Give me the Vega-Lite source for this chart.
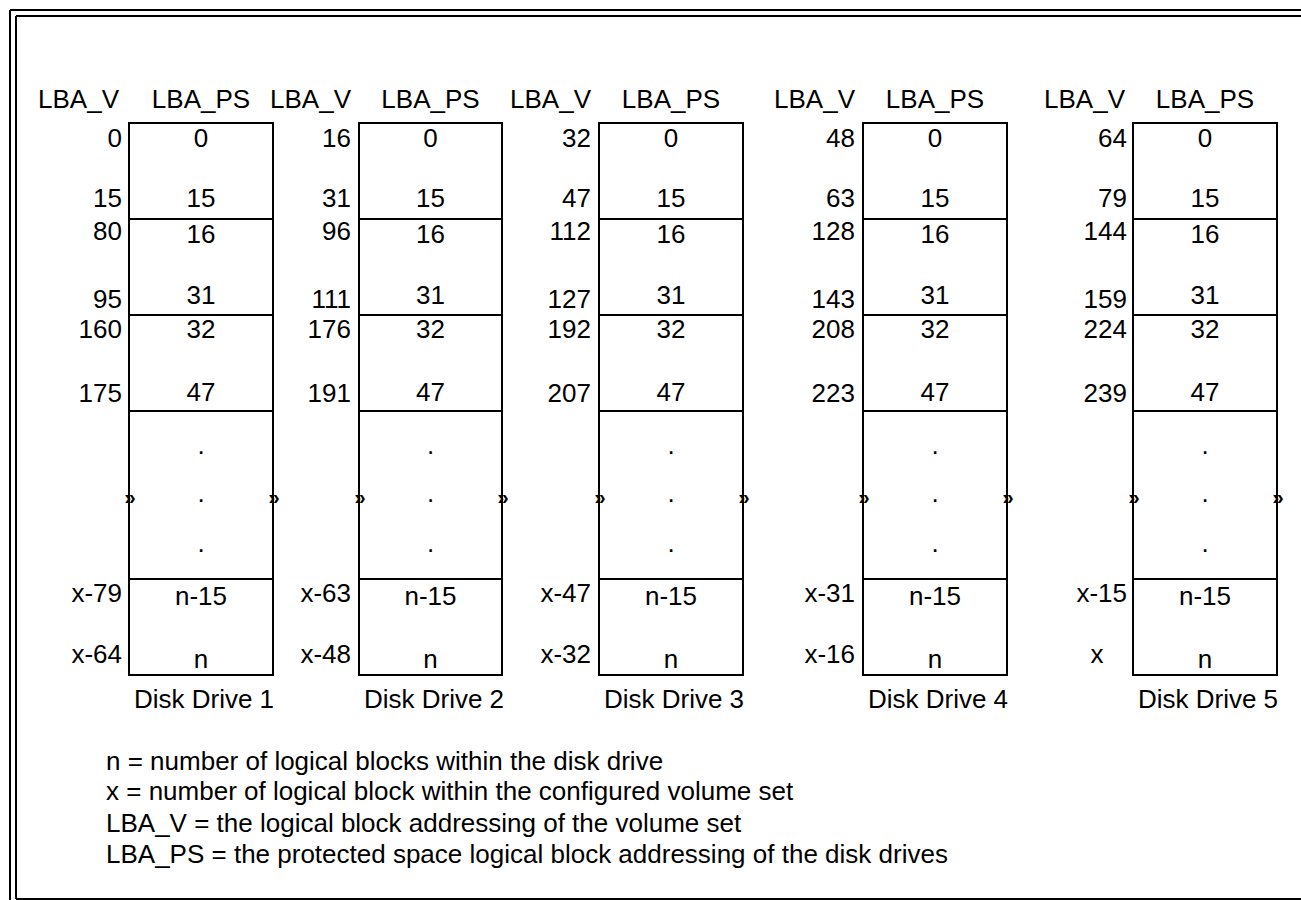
{
  "$schema": "https://vega.github.io/schema/vega-lite/v6.json",
  "width": 1301,
  "height": 900,
  "padding": 0,
  "autosize": {"type": "none"},
  "background": "white",
  "config": {"view": {"stroke": null}, "text": {"font": "Liberation Sans", "color": "black"}},
  "datasets": {
    "lines": [
      {"x": 10, "y": 10, "x2": 1301, "y2": 10},
      {"x": 16, "y": 16, "x2": 1301, "y2": 16},
      {"x": 10, "y": 10, "x2": 10, "y2": 900},
      {"x": 16, "y": 16, "x2": 16, "y2": 899},
      {"x": 16, "y": 899, "x2": 1301, "y2": 899},
      {"x": 129, "y": 219, "x2": 273, "y2": 219},
      {"x": 129, "y": 315, "x2": 273, "y2": 315},
      {"x": 129, "y": 411, "x2": 273, "y2": 411},
      {"x": 129, "y": 579, "x2": 273, "y2": 579},
      {"x": 359, "y": 219, "x2": 502, "y2": 219},
      {"x": 359, "y": 315, "x2": 502, "y2": 315},
      {"x": 359, "y": 411, "x2": 502, "y2": 411},
      {"x": 359, "y": 579, "x2": 502, "y2": 579},
      {"x": 599, "y": 219, "x2": 743, "y2": 219},
      {"x": 599, "y": 315, "x2": 743, "y2": 315},
      {"x": 599, "y": 411, "x2": 743, "y2": 411},
      {"x": 599, "y": 579, "x2": 743, "y2": 579},
      {"x": 863, "y": 219, "x2": 1007, "y2": 219},
      {"x": 863, "y": 315, "x2": 1007, "y2": 315},
      {"x": 863, "y": 411, "x2": 1007, "y2": 411},
      {"x": 863, "y": 579, "x2": 1007, "y2": 579},
      {"x": 1133, "y": 219, "x2": 1277, "y2": 219},
      {"x": 1133, "y": 315, "x2": 1277, "y2": 315},
      {"x": 1133, "y": 411, "x2": 1277, "y2": 411},
      {"x": 1133, "y": 579, "x2": 1277, "y2": 579}
    ],
    "boxes": [
      {"drive": "Disk Drive 1", "x": 129, "x2": 273, "y": 123, "y2": 675},
      {"drive": "Disk Drive 2", "x": 359, "x2": 502, "y": 123, "y2": 675},
      {"drive": "Disk Drive 3", "x": 599, "x2": 743, "y": 123, "y2": 675},
      {"drive": "Disk Drive 4", "x": 863, "x2": 1007, "y": 123, "y2": 675},
      {"drive": "Disk Drive 5", "x": 1133, "x2": 1277, "y": 123, "y2": 675}
    ],
    "center": [
      {"t": "LBA_PS", "x": 201, "y": 108}, {"t": "LBA_PS", "x": 430.5, "y": 108}, {"t": "LBA_PS", "x": 671, "y": 108}, {"t": "LBA_PS", "x": 935, "y": 108}, {"t": "LBA_PS", "x": 1205, "y": 108},
      {"t": "0", "x": 201, "y": 147}, {"t": "15", "x": 201, "y": 207}, {"t": "16", "x": 201, "y": 243}, {"t": "31", "x": 201, "y": 304}, {"t": "32", "x": 201, "y": 338}, {"t": "47", "x": 201, "y": 401}, {"t": "n-15", "x": 201, "y": 605}, {"t": "n", "x": 201, "y": 668},
      {"t": "0", "x": 430.5, "y": 147}, {"t": "15", "x": 430.5, "y": 207}, {"t": "16", "x": 430.5, "y": 243}, {"t": "31", "x": 430.5, "y": 304}, {"t": "32", "x": 430.5, "y": 338}, {"t": "47", "x": 430.5, "y": 401}, {"t": "n-15", "x": 430.5, "y": 605}, {"t": "n", "x": 430.5, "y": 668},
      {"t": "0", "x": 671, "y": 147}, {"t": "15", "x": 671, "y": 207}, {"t": "16", "x": 671, "y": 243}, {"t": "31", "x": 671, "y": 304}, {"t": "32", "x": 671, "y": 338}, {"t": "47", "x": 671, "y": 401}, {"t": "n-15", "x": 671, "y": 605}, {"t": "n", "x": 671, "y": 668},
      {"t": "0", "x": 935, "y": 147}, {"t": "15", "x": 935, "y": 207}, {"t": "16", "x": 935, "y": 243}, {"t": "31", "x": 935, "y": 304}, {"t": "32", "x": 935, "y": 338}, {"t": "47", "x": 935, "y": 401}, {"t": "n-15", "x": 935, "y": 605}, {"t": "n", "x": 935, "y": 668},
      {"t": "0", "x": 1205, "y": 147}, {"t": "15", "x": 1205, "y": 207}, {"t": "16", "x": 1205, "y": 243}, {"t": "31", "x": 1205, "y": 304}, {"t": "32", "x": 1205, "y": 338}, {"t": "47", "x": 1205, "y": 401}, {"t": "n-15", "x": 1205, "y": 605}, {"t": "n", "x": 1205, "y": 668},
      {"t": ".", "x": 201, "y": 454}, {"t": ".", "x": 201, "y": 502}, {"t": ".", "x": 201, "y": 552},
      {"t": ".", "x": 430.5, "y": 454}, {"t": ".", "x": 430.5, "y": 502}, {"t": ".", "x": 430.5, "y": 552},
      {"t": ".", "x": 671, "y": 454}, {"t": ".", "x": 671, "y": 502}, {"t": ".", "x": 671, "y": 552},
      {"t": ".", "x": 935, "y": 454}, {"t": ".", "x": 935, "y": 502}, {"t": ".", "x": 935, "y": 552},
      {"t": ".", "x": 1205, "y": 454}, {"t": ".", "x": 1205, "y": 502}, {"t": ".", "x": 1205, "y": 552},
      {"t": "Disk Drive 1", "x": 204, "y": 708}, {"t": "Disk Drive 2", "x": 434, "y": 708}, {"t": "Disk Drive 3", "x": 674, "y": 708}, {"t": "Disk Drive 4", "x": 938, "y": 708}, {"t": "Disk Drive 5", "x": 1208, "y": 708},
      {"t": "x", "x": 1097, "y": 663}
    ],
    "right": [
      {"t": "LBA_V", "x": 119, "y": 108}, {"t": "LBA_V", "x": 351, "y": 108}, {"t": "LBA_V", "x": 591, "y": 108}, {"t": "LBA_V", "x": 855, "y": 108}, {"t": "LBA_V", "x": 1125, "y": 108},
      {"t": "0", "x": 122, "y": 147}, {"t": "15", "x": 122, "y": 207}, {"t": "80", "x": 122, "y": 240}, {"t": "95", "x": 122, "y": 308}, {"t": "160", "x": 122, "y": 338}, {"t": "175", "x": 122, "y": 402}, {"t": "x-79", "x": 122, "y": 602}, {"t": "x-64", "x": 122, "y": 663},
      {"t": "16", "x": 351, "y": 147}, {"t": "31", "x": 351, "y": 207}, {"t": "96", "x": 351, "y": 240}, {"t": "111", "x": 351, "y": 308}, {"t": "176", "x": 351, "y": 338}, {"t": "191", "x": 351, "y": 402}, {"t": "x-63", "x": 351, "y": 602}, {"t": "x-48", "x": 351, "y": 663},
      {"t": "32", "x": 591, "y": 147}, {"t": "47", "x": 591, "y": 207}, {"t": "112", "x": 591, "y": 240}, {"t": "127", "x": 591, "y": 308}, {"t": "192", "x": 591, "y": 338}, {"t": "207", "x": 591, "y": 402}, {"t": "x-47", "x": 591, "y": 602}, {"t": "x-32", "x": 591, "y": 663},
      {"t": "48", "x": 855, "y": 147}, {"t": "63", "x": 855, "y": 207}, {"t": "128", "x": 855, "y": 240}, {"t": "143", "x": 855, "y": 308}, {"t": "208", "x": 855, "y": 338}, {"t": "223", "x": 855, "y": 402}, {"t": "x-31", "x": 855, "y": 602}, {"t": "x-16", "x": 855, "y": 663},
      {"t": "64", "x": 1127, "y": 147}, {"t": "79", "x": 1127, "y": 207}, {"t": "144", "x": 1127, "y": 240}, {"t": "159", "x": 1127, "y": 308}, {"t": "224", "x": 1127, "y": 338}, {"t": "239", "x": 1127, "y": 402}, {"t": "x-15", "x": 1127, "y": 602}
    ],
    "marks": [
      {"x": 130, "y": 498}, {"x": 274, "y": 498},
      {"x": 360, "y": 498}, {"x": 503, "y": 498},
      {"x": 600, "y": 498}, {"x": 744, "y": 498},
      {"x": 864, "y": 498}, {"x": 1008, "y": 498},
      {"x": 1134, "y": 498}, {"x": 1278, "y": 498}
    ],
    "legend": [
      {"t": "n = number of logical blocks within the disk drive", "x": 106, "y": 770},
      {"t": "x = number of logical block within the configured volume set", "x": 106, "y": 800},
      {"t": "LBA_V = the logical block addressing of the volume set", "x": 106, "y": 832},
      {"t": "LBA_PS = the protected space logical block addressing of the disk drives", "x": 106, "y": 863}
    ]
  },
  "layer": [
    {
      "data": {"name": "lines"},
      "mark": {"type": "rule", "stroke": "black", "strokeWidth": 2},
      "encoding": {
        "x": {"field": "x", "type": "quantitative", "scale": {"domain": [0, 1301], "nice": false, "zero": false}, "axis": null},
        "y": {"field": "y", "type": "quantitative", "scale": {"domain": [0, 900], "nice": false, "zero": false, "reverse": true}, "axis": null},
        "x2": {"field": "x2"},
        "y2": {"field": "y2"}
      }
    },
    {
      "data": {"name": "boxes"},
      "mark": {"type": "rect", "fill": null, "fillOpacity": 0, "stroke": "black", "strokeWidth": 2},
      "encoding": {
        "x": {"field": "x", "type": "quantitative"},
        "x2": {"field": "x2"},
        "y": {"field": "y", "type": "quantitative"},
        "y2": {"field": "y2"}
      }
    },
    {
      "data": {"name": "center"},
      "mark": {"type": "text", "align": "center", "baseline": "alphabetic", "fontSize": 26},
      "encoding": {
        "x": {"field": "x", "type": "quantitative"},
        "y": {"field": "y", "type": "quantitative"},
        "text": {"field": "t"}
      }
    },
    {
      "data": {"name": "right"},
      "mark": {"type": "text", "align": "right", "baseline": "alphabetic", "fontSize": 26},
      "encoding": {
        "x": {"field": "x", "type": "quantitative"},
        "y": {"field": "y", "type": "quantitative"},
        "text": {"field": "t"}
      }
    },
    {
      "data": {"name": "legend"},
      "mark": {"type": "text", "align": "left", "baseline": "alphabetic", "fontSize": 26},
      "encoding": {
        "x": {"field": "x", "type": "quantitative"},
        "y": {"field": "y", "type": "quantitative"},
        "text": {"field": "t"}
      }
    },
    {
      "data": {"name": "marks"},
      "mark": {"type": "text", "align": "center", "baseline": "middle", "fontSize": 20, "fontWeight": "bold", "text": "»"},
      "encoding": {
        "x": {"field": "x", "type": "quantitative"},
        "y": {"field": "y", "type": "quantitative"}
      }
    }
  ]
}
